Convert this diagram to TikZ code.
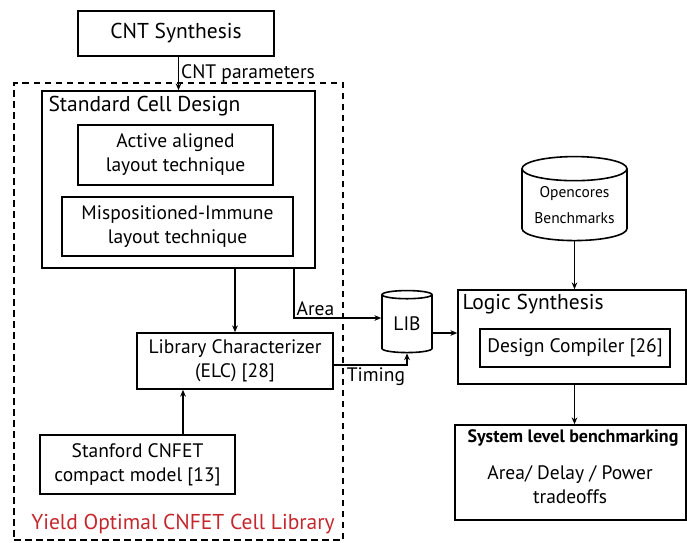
\documentclass[tikz,border=0pt]{standalone}
\usepackage{fontspec}
\setmainfont{PT Sans}
\usetikzlibrary{arrows.meta, positioning, shapes.geometric}
\definecolor{libred}{RGB}{196,40,46}

\begin{document}
\begin{tikzpicture}[
  x=1pt, y=-1pt,
  every node/.style={font=\fontsize{19.5}{24}\selectfont},
  bigfont/.style={font=\fontsize{21.5}{24}\selectfont},
  flowbox/.style={rectangle, draw, line width=1.6pt, align=center,
                  inner sep=0pt},
  datastore/.style={cylinder, shape border rotate=90, draw, line width=1.6pt,
                    align=center, inner sep=0pt, aspect=0.3},
  libframe/.style={rectangle, draw, dashed, dash pattern=on 6.5pt off 4.5pt,
                   line width=1.6pt, inner sep=0pt},
  arr/.style={-{Stealth[length=2.4mm, width=2mm]}, line width=1.4pt}
]
  \useasboundingbox (0,0) rectangle (687,542);

  \node[libframe, minimum width=329, minimum height=457] (frame) at (178.5,311.5) {};
  \node[flowbox, bigfont, minimum width=196, minimum height=45] (synth) at (176,33.5) {CNT Synthesis};
  \node[flowbox, minimum width=273, minimum height=177] (stdcell) at (178.5,179.5) {};
  \node[bigfont, anchor=west] (stdtitle) at (45,106) {Standard Cell Design};
  \node[flowbox, minimum width=195, minimum height=60] (active) at (175.5,155) {Active aligned\\layout technique};
  \node[flowbox, minimum width=231, minimum height=59] (immune) at (177.5,226.5) {Mispositioned-Immune\\layout technique};
  \node[flowbox, minimum width=196, minimum height=56] (libchar) at (235,361) {Library Characterizer\\(ELC) [28]};
  \node[flowbox, minimum width=195, minimum height=59] (stanford) at (137.5,464.5) {Stanford CNFET\\compact model [13]};
  \node[bigfont, text=libred] (yield) at (183,524) {Yield Optimal CNFET Cell Library};

  \node[datastore, minimum width=50, minimum height=62] (lib) at (407,324) {LIB};
  \node[datastore, minimum width=105, minimum height=84,
        font=\fontsize{15.5}{26}\selectfont] (opencores) at (574.5,205) {Opencores\\Benchmarks};
  \node[flowbox, minimum width=228, minimum height=94] (logic) at (572,337) {};
  \node[bigfont, anchor=west] (logictitle) at (459,304) {Logic Synthesis};
  \node[flowbox, minimum width=190, minimum height=38] (dc) at (575,348) {Design Compiler [26]};
  \node[flowbox, minimum width=231, minimum height=95] (sysbench) at (570.5,472.5) {};
  \node[font=\fontsize{18}{20}\selectfont\bfseries] (systitle) at (573,438) {System level benchmarking};
  \node[align=center] (tradeoffs) at (570,485) {Area/ Delay / Power\\tradeoffs};

  \draw[arr] (synth.south -| stdcell.north) -- node[right, inner sep=2pt] {CNT parameters} (stdcell.north);
  \draw[arr] (stdcell.south -| libchar.north) -- (libchar.north);
  \draw[arr] ([xshift=115.5pt]stdcell.south) |- node[pos=0.5, above right, inner sep=2pt] {Area} ([yshift=6pt]lib.west);
  \draw[arr] ([yshift=-4pt]libchar.east) -| node[pos=0.07, below right, inner sep=2pt] {Timing} (lib.south);
  \draw[arr] ([xshift=45.5pt]stanford.north) -- ([xshift=45.5pt]stanford.north |- libchar.south);
  \draw[arr] ([yshift=-9pt]lib.east) -- ([yshift=-9pt]lib.east -| logic.west);
  \draw[arr] (opencores.south) -- (opencores.south |- logic.north);
  \draw[arr] (opencores.south |- logic.south) -- (opencores.south |- sysbench.north);
\end{tikzpicture}
\end{document}
